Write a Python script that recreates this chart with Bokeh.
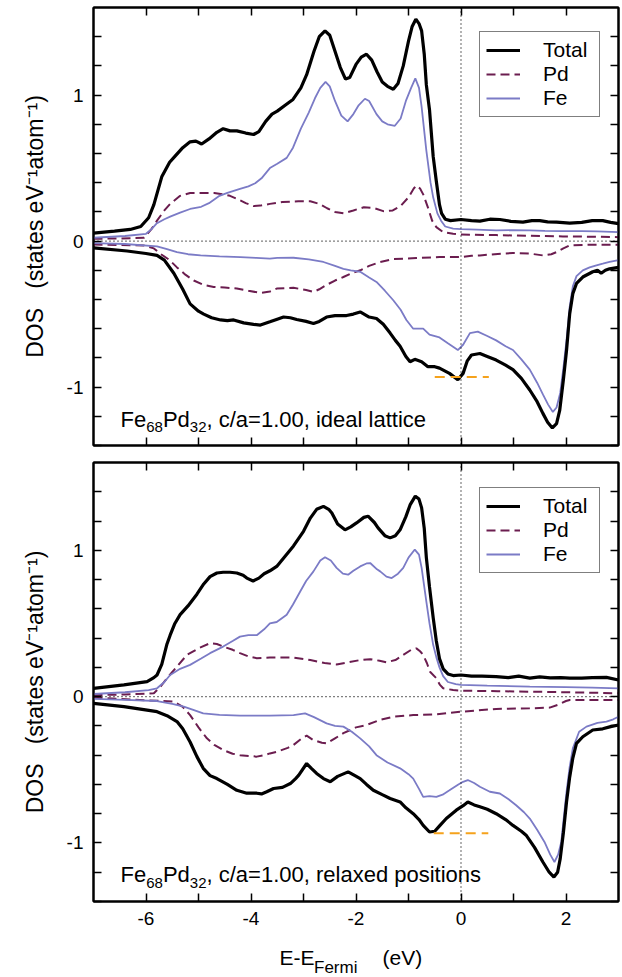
from bokeh.plotting import figure
from bokeh.models import LinearAxis, FixedTicker, Span, Label, Legend, LegendItem, Range1d
from bokeh.layouts import column
from bokeh.embed import file_html
from bokeh.resources import INLINE

FONT = "Liberation Sans"

# ---------------- data: panel 1 (ideal lattice) ----------------
top_tot_up_e = [-7.0, -6.6, -6.3, -6.1, -5.95, -5.85, -5.7, -5.55, -5.45, -5.3, -5.16, -5.05, -4.94, -4.8, -4.65, -4.53, -4.4, -4.27, -4.1, -3.95, -3.85, -3.72, -3.6, -3.5, -3.35, -3.2, -3.05, -2.94, -2.8, -2.7, -2.59, -2.5, -2.4, -2.3, -2.2, -2.12, -2.0, -1.9, -1.8, -1.7, -1.6, -1.5, -1.4, -1.29, -1.2, -1.1, -1.0, -0.93, -0.86, -0.8, -0.75, -0.7, -0.66, -0.6, -0.53, -0.47, -0.41, -0.37, -0.3, -0.2, 0.0, 0.2, 0.36, 0.55, 0.74, 0.95, 1.18, 1.35, 1.5, 1.65, 1.82, 2.07, 2.3, 2.5, 2.7, 2.85, 3.0]
top_tot_up = [0.055, 0.068, 0.08, 0.1, 0.16, 0.25, 0.44, 0.54, 0.58, 0.64, 0.68, 0.685, 0.665, 0.7, 0.745, 0.77, 0.755, 0.755, 0.74, 0.73, 0.75, 0.82, 0.87, 0.89, 0.93, 0.97, 1.05, 1.14, 1.3, 1.4, 1.44, 1.41, 1.3, 1.19, 1.11, 1.12, 1.21, 1.26, 1.28, 1.24, 1.16, 1.09, 1.06, 1.04, 1.08, 1.2, 1.37, 1.47, 1.52, 1.49, 1.44, 1.28, 1.07, 0.9, 0.58, 0.41, 0.25, 0.19, 0.15, 0.14, 0.148, 0.14, 0.137, 0.15, 0.148, 0.135, 0.13, 0.14, 0.14, 0.132, 0.13, 0.123, 0.128, 0.14, 0.14, 0.128, 0.12]

top_fe_up_e = [-7.0, -6.4, -6.0, -5.9, -5.8, -5.65, -5.54, -5.35, -5.16, -4.95, -4.8, -4.6, -4.45, -4.21, -4.05, -3.92, -3.8, -3.64, -3.5, -3.32, -3.2, -3.05, -2.9, -2.78, -2.68, -2.58, -2.5, -2.4, -2.28, -2.16, -2.05, -1.95, -1.83, -1.75, -1.61, -1.5, -1.4, -1.26, -1.15, -1.05, -0.95, -0.87, -0.8, -0.75, -0.66, -0.58, -0.53, -0.45, -0.38, -0.3, -0.15, 0.0, 0.3, 0.67, 1.0, 1.31, 1.6, 1.94, 2.3, 2.6, 3.0]
top_fe_up = [0.023, 0.035, 0.05, 0.08, 0.12, 0.15, 0.168, 0.195, 0.22, 0.235, 0.26, 0.31, 0.33, 0.357, 0.375, 0.396, 0.43, 0.5, 0.53, 0.57, 0.64, 0.77, 0.88, 0.98, 1.05, 1.09, 1.06, 0.96, 0.86, 0.82, 0.87, 0.93, 0.975, 0.96, 0.87, 0.82, 0.8, 0.79, 0.84, 0.96, 1.05, 1.115, 1.05, 0.92, 0.62, 0.4, 0.3, 0.19, 0.14, 0.1, 0.085, 0.082, 0.078, 0.073, 0.075, 0.073, 0.07, 0.068, 0.068, 0.066, 0.061]

top_pd_up_e = [-7.0, -6.5, -6.04, -5.9, -5.79, -5.65, -5.54, -5.35, -5.16, -4.9, -4.7, -4.53, -4.4, -4.27, -4.1, -3.95, -3.82, -3.64, -3.4, -3.1, -2.87, -2.7, -2.55, -2.4, -2.24, -2.05, -1.85, -1.65, -1.48, -1.3, -1.15, -1.0, -0.9, -0.85, -0.78, -0.72, -0.62, -0.55, -0.47, -0.34, -0.15, 0.0, 0.67, 1.31, 1.94, 2.5, 3.0]
top_pd_up = [0.016, 0.018, 0.023, 0.08, 0.14, 0.21, 0.255, 0.31, 0.33, 0.33, 0.33, 0.32, 0.31, 0.29, 0.26, 0.24, 0.243, 0.255, 0.268, 0.273, 0.273, 0.255, 0.225, 0.2, 0.19, 0.21, 0.232, 0.225, 0.205, 0.21, 0.24, 0.3, 0.36, 0.38, 0.36, 0.32, 0.22, 0.14, 0.096, 0.061, 0.05, 0.045, 0.041, 0.036, 0.032, 0.03, 0.027]

top_tot_dn_e = [-7.0, -6.36, -6.0, -5.79, -5.65, -5.47, -5.3, -5.16, -5.0, -4.9, -4.75, -4.58, -4.45, -4.33, -4.14, -3.95, -3.82, -3.64, -3.5, -3.38, -3.25, -3.13, -2.95, -2.81, -2.7, -2.56, -2.4, -2.18, -2.05, -1.92, -1.75, -1.61, -1.48, -1.35, -1.25, -1.16, -1.05, -0.97, -0.88, -0.75, -0.63, -0.5, -0.41, -0.22, -0.06, 0.04, 0.12, 0.2, 0.36, 0.5, 0.67, 0.85, 0.99, 1.15, 1.31, 1.45, 1.56, 1.65, 1.74, 1.82, 1.88, 1.95, 2.01, 2.07, 2.13, 2.2, 2.32, 2.51, 2.6, 2.67, 2.75, 2.83, 3.0]
top_tot_dn = [-0.046, -0.068, -0.085, -0.098, -0.13, -0.22, -0.33, -0.43, -0.48, -0.5, -0.525, -0.54, -0.545, -0.54, -0.56, -0.57, -0.575, -0.553, -0.535, -0.52, -0.525, -0.537, -0.55, -0.564, -0.55, -0.52, -0.51, -0.51, -0.5, -0.485, -0.52, -0.53, -0.57, -0.63, -0.68, -0.72, -0.79, -0.826, -0.81, -0.826, -0.86, -0.86, -0.87, -0.906, -0.95, -0.906, -0.82, -0.78, -0.77, -0.79, -0.815, -0.85, -0.88, -0.94, -1.02, -1.1, -1.18, -1.24, -1.28, -1.25, -1.16, -0.95, -0.75, -0.5, -0.36, -0.29, -0.246, -0.21, -0.2, -0.22, -0.2, -0.19, -0.18]

top_fe_dn_e = [-7.0, -6.4, -5.79, -5.6, -5.41, -5.2, -4.96, -4.6, -4.2, -3.9, -3.64, -3.5, -3.19, -2.9, -2.62, -2.4, -2.24, -2.1, -1.92, -1.75, -1.61, -1.45, -1.29, -1.15, -1.04, -0.91, -0.8, -0.72, -0.6, -0.41, -0.25, -0.06, 0.04, 0.17, 0.32, 0.5, 0.67, 0.85, 0.99, 1.15, 1.31, 1.45, 1.56, 1.66, 1.75, 1.82, 1.89, 1.95, 2.01, 2.07, 2.13, 2.2, 2.32, 2.45, 2.58, 2.7, 2.83, 3.0]
top_fe_dn = [-0.014, -0.02, -0.036, -0.055, -0.075, -0.09, -0.098, -0.105, -0.11, -0.115, -0.12, -0.115, -0.114, -0.125, -0.143, -0.17, -0.19, -0.2, -0.21, -0.25, -0.28, -0.34, -0.405, -0.47, -0.54, -0.6, -0.6, -0.6, -0.64, -0.66, -0.7, -0.746, -0.71, -0.63, -0.62, -0.65, -0.68, -0.72, -0.746, -0.81, -0.88, -0.97, -1.05, -1.12, -1.17, -1.14, -1.04, -0.87, -0.68, -0.45, -0.31, -0.24, -0.2, -0.18, -0.166, -0.155, -0.143, -0.13]

top_pd_dn_e = [-7.0, -6.04, -5.85, -5.73, -5.55, -5.41, -5.25, -5.09, -4.9, -4.71, -4.5, -4.27, -4.05, -3.82, -3.64, -3.51, -3.19, -2.95, -2.81, -2.7, -2.56, -2.4, -2.24, -2.08, -1.92, -1.75, -1.54, -1.29, -0.85, -0.41, 0.0, 0.2, 0.36, 0.7, 0.99, 1.3, 1.56, 1.72, 1.82, 1.95, 2.07, 2.45, 3.0]
top_pd_dn = [-0.023, -0.03, -0.05, -0.086, -0.13, -0.18, -0.23, -0.27, -0.3, -0.314, -0.318, -0.325, -0.34, -0.355, -0.345, -0.325, -0.32, -0.335, -0.348, -0.33, -0.3, -0.27, -0.246, -0.22, -0.2, -0.17, -0.143, -0.123, -0.116, -0.109, -0.109, -0.1, -0.098, -0.088, -0.082, -0.085, -0.098, -0.09, -0.075, -0.05, -0.03, -0.025, -0.025]

top_mark_x = [-0.5, 0.53]
top_mark_y = [-0.93, -0.93]

# ---------------- data: panel 2 (relaxed positions) ----------------
bot_tot_up_e = [-7.0, -6.42, -5.98, -5.85, -5.79, -5.7, -5.6, -5.54, -5.45, -5.35, -5.2, -5.03, -4.9, -4.78, -4.65, -4.53, -4.4, -4.27, -4.15, -4.08, -3.96, -3.85, -3.75, -3.64, -3.51, -3.35, -3.19, -3.0, -2.87, -2.75, -2.62, -2.52, -2.46, -2.35, -2.21, -2.1, -1.99, -1.85, -1.77, -1.65, -1.58, -1.45, -1.35, -1.25, -1.16, -1.05, -0.97, -0.87, -0.8, -0.75, -0.7, -0.66, -0.6, -0.53, -0.47, -0.41, -0.34, -0.25, -0.15, 0.0, 0.2, 0.4, 0.67, 0.9, 1.1, 1.31, 1.5, 1.7, 1.9, 2.07, 2.3, 2.5, 2.77, 3.0]
bot_tot_up = [0.057, 0.08, 0.103, 0.13, 0.148, 0.22, 0.36, 0.42, 0.5, 0.56, 0.62, 0.7, 0.77, 0.82, 0.845, 0.85, 0.85, 0.845, 0.83, 0.81, 0.79, 0.81, 0.84, 0.86, 0.89, 0.96, 1.03, 1.13, 1.22, 1.28, 1.3, 1.28, 1.255, 1.18, 1.14, 1.16, 1.187, 1.225, 1.233, 1.19, 1.153, 1.1, 1.085, 1.1, 1.14, 1.23, 1.31, 1.37, 1.35, 1.29, 1.15, 0.95, 0.75, 0.54, 0.38, 0.26, 0.19, 0.155, 0.144, 0.148, 0.14, 0.14, 0.137, 0.13, 0.14, 0.126, 0.135, 0.128, 0.13, 0.126, 0.126, 0.13, 0.132, 0.114]

bot_fe_up_e = [-7.0, -6.4, -5.95, -5.79, -5.65, -5.54, -5.35, -5.16, -4.95, -4.78, -4.53, -4.35, -4.21, -4.05, -3.89, -3.75, -3.64, -3.51, -3.32, -3.2, -3.06, -2.95, -2.81, -2.68, -2.59, -2.48, -2.37, -2.25, -2.15, -2.05, -1.92, -1.8, -1.73, -1.6, -1.54, -1.42, -1.32, -1.2, -1.1, -1.0, -0.88, -0.8, -0.75, -0.66, -0.6, -0.53, -0.47, -0.41, -0.34, -0.25, -0.1, 0.0, 0.5, 1.31, 2.0, 2.5, 3.0]
bot_fe_up = [0.018, 0.03, 0.045, 0.057, 0.1, 0.148, 0.19, 0.217, 0.26, 0.297, 0.342, 0.38, 0.41, 0.42, 0.42, 0.46, 0.5, 0.51, 0.56, 0.63, 0.72, 0.79, 0.856, 0.93, 0.952, 0.93, 0.88, 0.84, 0.833, 0.86, 0.89, 0.91, 0.913, 0.87, 0.856, 0.82, 0.81, 0.84, 0.88, 0.95, 1.005, 0.97, 0.88, 0.65, 0.5, 0.354, 0.27, 0.2, 0.14, 0.1, 0.085, 0.08, 0.075, 0.068, 0.065, 0.062, 0.057]

bot_pd_up_e = [-7.0, -6.4, -5.85, -5.72, -5.6, -5.4, -5.22, -5.0, -4.78, -4.65, -4.53, -4.35, -4.21, -4.05, -3.89, -3.64, -3.19, -2.87, -2.6, -2.37, -2.15, -1.92, -1.73, -1.55, -1.42, -1.25, -1.1, -0.95, -0.85, -0.78, -0.72, -0.65, -0.59, -0.47, -0.4, -0.34, -0.15, 0.0, 0.7, 1.31, 2.0, 2.5, 3.0]
bot_pd_up = [0.01, 0.015, 0.023, 0.07, 0.126, 0.21, 0.285, 0.33, 0.365, 0.36, 0.342, 0.32, 0.297, 0.275, 0.263, 0.267, 0.267, 0.25, 0.23, 0.22, 0.235, 0.25, 0.256, 0.245, 0.235, 0.25, 0.285, 0.32, 0.33, 0.31, 0.285, 0.23, 0.17, 0.126, 0.08, 0.057, 0.045, 0.041, 0.037, 0.034, 0.03, 0.027, 0.023]

bot_tot_dn_e = [-7.0, -6.42, -5.79, -5.6, -5.41, -5.3, -5.16, -5.03, -4.91, -4.78, -4.65, -4.45, -4.27, -4.08, -3.89, -3.8, -3.7, -3.57, -3.4, -3.25, -3.15, -3.09, -2.94, -2.85, -2.75, -2.62, -2.49, -2.35, -2.15, -2.02, -1.92, -1.8, -1.67, -1.5, -1.35, -1.16, -1.05, -0.91, -0.8, -0.72, -0.6, -0.5, -0.4, -0.28, -0.09, 0.04, 0.13, 0.25, 0.36, 0.5, 0.67, 0.85, 0.99, 1.15, 1.24, 1.4, 1.56, 1.68, 1.77, 1.84, 1.89, 1.95, 2.01, 2.07, 2.13, 2.2, 2.32, 2.51, 2.7, 2.85, 3.0]
bot_tot_dn = [-0.046, -0.068, -0.103, -0.13, -0.17, -0.22, -0.31, -0.41, -0.49, -0.54, -0.56, -0.6, -0.64, -0.66, -0.66, -0.665, -0.65, -0.628, -0.62, -0.594, -0.56, -0.537, -0.457, -0.49, -0.525, -0.56, -0.582, -0.545, -0.514, -0.54, -0.56, -0.6, -0.64, -0.67, -0.696, -0.72, -0.76, -0.8, -0.84, -0.88, -0.925, -0.92, -0.88, -0.833, -0.776, -0.745, -0.72, -0.74, -0.753, -0.77, -0.8, -0.84, -0.88, -0.92, -0.947, -1.03, -1.13, -1.2, -1.233, -1.2, -1.107, -0.93, -0.72, -0.55, -0.42, -0.32, -0.274, -0.228, -0.22, -0.205, -0.194]

bot_fe_dn_e = [-7.0, -6.4, -5.79, -5.5, -5.28, -5.1, -4.91, -4.6, -4.21, -3.64, -3.19, -2.97, -2.8, -2.56, -2.4, -2.24, -2.08, -1.92, -1.75, -1.61, -1.4, -1.16, -1.0, -0.91, -0.8, -0.72, -0.6, -0.47, -0.35, -0.22, -0.05, 0.04, 0.13, 0.25, 0.36, 0.55, 0.74, 0.9, 1.05, 1.2, 1.31, 1.45, 1.59, 1.7, 1.78, 1.85, 1.91, 1.96, 2.01, 2.07, 2.13, 2.25, 2.39, 2.6, 2.77, 2.9, 3.0]
bot_fe_dn = [-0.016, -0.022, -0.03, -0.05, -0.068, -0.09, -0.114, -0.125, -0.13, -0.13, -0.126, -0.114, -0.14, -0.183, -0.2, -0.205, -0.24, -0.285, -0.34, -0.4, -0.45, -0.49, -0.53, -0.56, -0.63, -0.685, -0.68, -0.685, -0.67, -0.64, -0.6, -0.582, -0.57, -0.59, -0.616, -0.65, -0.662, -0.7, -0.742, -0.79, -0.833, -0.91, -0.993, -1.08, -1.13, -1.08, -0.993, -0.82, -0.65, -0.48, -0.354, -0.24, -0.205, -0.18, -0.171, -0.155, -0.137]

bot_pd_dn_e = [-7.0, -5.47, -5.3, -5.16, -5.0, -4.84, -4.7, -4.53, -4.35, -4.21, -3.89, -3.75, -3.64, -3.51, -3.3, -3.19, -3.05, -2.94, -2.82, -2.65, -2.56, -2.4, -2.24, -2.0, -1.8, -1.55, -1.29, -0.91, -0.47, 0.0, 0.67, 1.31, 1.69, 1.85, 2.0, 2.07, 3.0]
bot_pd_dn = [-0.007, -0.034, -0.07, -0.126, -0.21, -0.285, -0.33, -0.365, -0.39, -0.4, -0.41, -0.4, -0.388, -0.377, -0.35, -0.33, -0.29, -0.267, -0.295, -0.315, -0.32, -0.285, -0.25, -0.21, -0.194, -0.16, -0.137, -0.126, -0.121, -0.103, -0.084, -0.08, -0.075, -0.055, -0.03, -0.023, -0.023]

bot_mark_x = [-0.52, 0.52]
bot_mark_y = [-0.934, -0.934]

# ---------------- labels / ticks ----------------
x_major = [-6, -4, -2, 0, 2]
x_minor = [-5, -3, -1, 1]
y_major = [-1, 0, 1]
y_minor = [-1.4, -1.2, -0.8, -0.6, -0.4, -0.2, 0.2, 0.4, 0.6, 0.8, 1.2, 1.4]
series_names = ["Total", "Pd", "Fe"]
panel_tails = [", c/a=1.00, ideal lattice", ", c/a=1.00, relaxed positions"]
y_label = "DOS\u00a0\u00a0 (states eV\u207b\u00b9atom\u207b\u00b9)"
x_label_parts = ["E-E", "Fermi", "(eV)"]

C_TOT = "black"
C_PD = "#6b1d4f"
C_FE = "#7b7bc6"
C_MARK = "#f5a21c"

XPX = 52.5   # px per eV
YPX = 146.2  # px per state
FIG_W = 621
BL, BR = 93, 3


def style_axis(ax, ticker, labels, overrides=None):
    ax.ticker = ticker
    ax.major_tick_in = 8
    ax.major_tick_out = 0
    ax.minor_tick_in = 8
    ax.minor_tick_out = 0
    ax.major_tick_line_width = 1.5
    ax.minor_tick_line_width = 1.5
    ax.major_tick_line_color = "black"
    ax.minor_tick_line_color = "black"
    ax.axis_line_color = "black"
    ax.axis_line_width = 2
    ax.major_label_text_font = FONT
    ax.major_label_text_font_size = "19px"
    ax.major_label_text_color = "black"
    ax.major_label_standoff = 10
    if overrides:
        ax.major_label_overrides = overrides


def make_panel(d, mark_x, mark_y, tail, height, btop, bbottom, xlabels):
    p = figure(width=FIG_W, height=height, x_range=Range1d(-7, 3), y_range=Range1d(-1.4, 1.6),
               output_backend="svg", toolbar_location=None,
               min_border_left=BL, min_border_right=BR, min_border_top=btop, min_border_bottom=bbottom)
    p.xgrid.visible = False
    p.ygrid.visible = False
    p.outline_line_color = "black"
    p.outline_line_width = 2
    p.background_fill_color = "white"
    p.border_fill_color = "white"

    # labelled axes: bottom (only lower panel) and left
    if xlabels:
        style_axis(p.xaxis[0], FixedTicker(ticks=x_major, minor_ticks=x_minor), True,
                   {v: str(v) for v in x_major})
    else:
        style_axis(p.xaxis[0], FixedTicker(ticks=[], minor_ticks=x_major + x_minor), False)
    style_axis(p.yaxis[0], FixedTicker(ticks=y_major, minor_ticks=y_minor), True,
               {v: str(v) for v in y_major})
    p.yaxis[0].axis_label = y_label
    p.yaxis[0].axis_label_text_font = FONT
    p.yaxis[0].axis_label_text_font_size = "23px"
    p.yaxis[0].axis_label_text_font_style = "normal"
    p.yaxis[0].axis_label_text_color = "black"
    p.yaxis[0].axis_label_standoff = 16

    # mirrored tick marks (no labels) on top and right
    top = LinearAxis()
    style_axis(top, FixedTicker(ticks=[], minor_ticks=x_major + x_minor), False)
    p.add_layout(top, "above")
    right = LinearAxis()
    style_axis(right, FixedTicker(ticks=[], minor_ticks=y_major + y_minor), False)
    p.add_layout(right, "right")

    p.add_layout(Span(location=0, dimension="width", line_color="black", line_width=1.2, line_dash="1 3"))
    p.add_layout(Span(location=0, dimension="height", line_color="black", line_width=1.2, line_dash="1 3"))

    r_pd = p.line(d["pd_up_e"], d["pd_up"], line_color=C_PD, line_width=2, line_dash="9 5")
    p.line(d["pd_dn_e"], d["pd_dn"], line_color=C_PD, line_width=2, line_dash="9 5")
    r_fe = p.line(d["fe_up_e"], d["fe_up"], line_color=C_FE, line_width=1.8)
    p.line(d["fe_dn_e"], d["fe_dn"], line_color=C_FE, line_width=1.8)
    r_tot = p.line(d["tot_up_e"], d["tot_up"], line_color=C_TOT, line_width=3.2)
    p.line(d["tot_dn_e"], d["tot_dn"], line_color=C_TOT, line_width=3.2)
    p.line(mark_x, mark_y, line_color=C_MARK, line_width=2, line_dash="10 6")

    legend = Legend(items=[LegendItem(label=series_names[0], renderers=[r_tot]),
                           LegendItem(label=series_names[1], renderers=[r_pd]),
                           LegendItem(label=series_names[2], renderers=[r_fe])],
                    location=(386, 328), orientation="vertical",
                    label_text_font=FONT, label_text_font_size="21px", label_text_color="black",
                    glyph_width=34, glyph_height=24, label_height=24, label_width=50,
                    label_standoff=23, spacing=0, padding=6, margin=0,
                    border_line_color="black", border_line_width=1.5,
                    background_fill_color="white", background_fill_alpha=1.0)
    p.add_layout(legend)

    # composition label with sub-scripts, placed in data coordinates inside the frame
    x0 = -7 + 27 / XPX
    yb = -1.4 + 26.5 / YPX
    ys = -1.4 + 18.5 / YPX
    pieces = [("Fe", 0.0, yb, "22px"), ("68", 25.7, ys, "15px"), ("Pd", 42.4, yb, "22px"),
              ("32", 69.3, ys, "15px"), (tail, 86.0, yb, "22px")]
    for txt, dx, yy, fs in pieces:
        p.add_layout(Label(x=x0 + dx / XPX, y=yy, text=txt, text_font=FONT, text_font_size=fs,
                           text_color="black", text_baseline="alphabetic", text_align="left"))
    return p


top_data = dict(tot_up_e=top_tot_up_e, tot_up=top_tot_up, fe_up_e=top_fe_up_e, fe_up=top_fe_up,
                pd_up_e=top_pd_up_e, pd_up=top_pd_up, tot_dn_e=top_tot_dn_e, tot_dn=top_tot_dn,
                fe_dn_e=top_fe_dn_e, fe_dn=top_fe_dn, pd_dn_e=top_pd_dn_e, pd_dn=top_pd_dn)
bot_data = dict(tot_up_e=bot_tot_up_e, tot_up=bot_tot_up, fe_up_e=bot_fe_up_e, fe_up=bot_fe_up,
                pd_up_e=bot_pd_up_e, pd_up=bot_pd_up, tot_dn_e=bot_tot_dn_e, tot_dn=bot_tot_dn,
                fe_dn_e=bot_fe_dn_e, fe_dn=bot_fe_dn, pd_dn_e=bot_pd_dn_e, pd_dn=bot_pd_dn)

p1 = make_panel(top_data, top_mark_x, top_mark_y, panel_tails[0], 453, 7, 8, False)
p2 = make_panel(bot_data, bot_mark_x, bot_mark_y, panel_tails[1], 482, 9, 34, True)

# strip below the lower panel holding the x-axis title "E-E_Fermi  (eV)"
H3 = 42
p3 = figure(width=FIG_W, height=H3, x_range=Range1d(-7, 3), y_range=Range1d(0, H3),
            output_backend="svg", toolbar_location=None, x_axis_type=None, y_axis_type=None,
            min_border_left=BL, min_border_right=BR, min_border_top=0, min_border_bottom=0)
p3.outline_line_color = None
p3.background_fill_color = "white"
p3.border_fill_color = "white"
xl0 = -7 + 186 / XPX
for txt, dx, yy, fs in [(x_label_parts[0], 0.0, 20, "21px"), (x_label_parts[1], 34.5, 10, "17px"),
                        (x_label_parts[2], 103.0, 20, "21px")]:
    p3.add_layout(Label(x=xl0 + dx / XPX, y=yy, text=txt, text_font=FONT, text_font_size=fs,
                        text_color="black", text_baseline="alphabetic", text_align="left"))

layout = column(p1, p2, p3, spacing=0)
open("out.html", "w").write(file_html(layout, INLINE))
